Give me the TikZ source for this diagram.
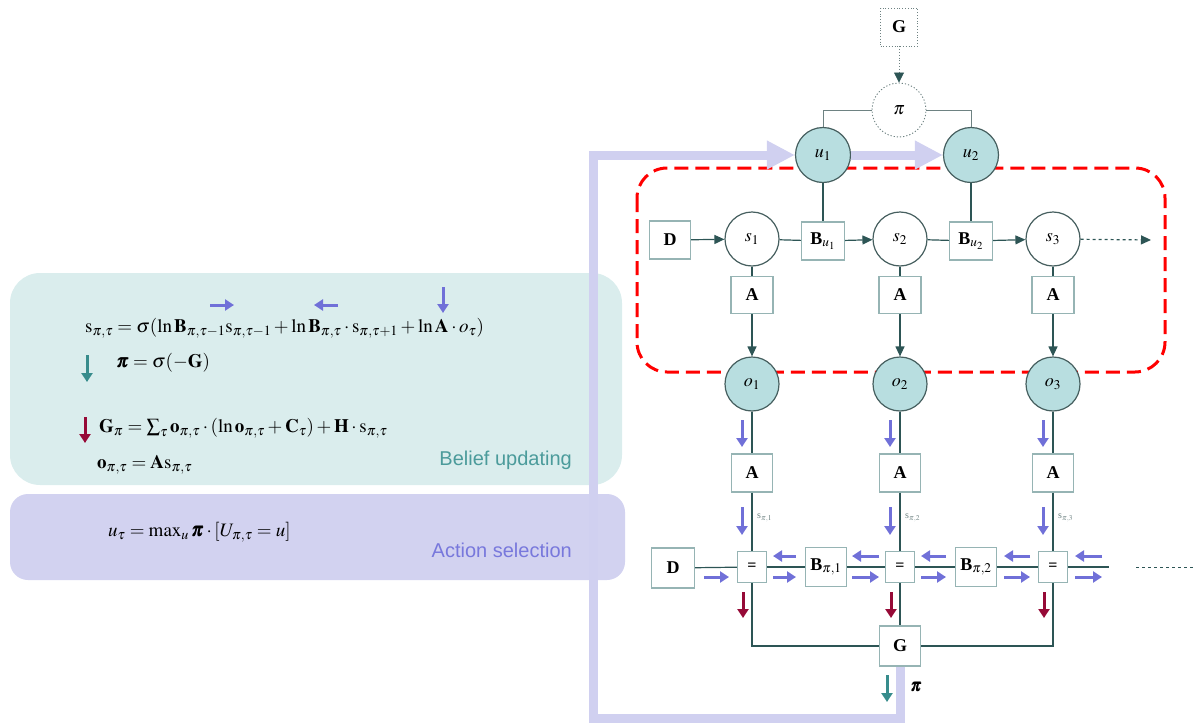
\documentclass[tikz,border=0pt]{standalone}
\usepackage{amsmath}
\usepackage{mathptmx}
\usepackage{fontspec}
\setmainfont{Liberation Serif}
\newfontfamily\sansfnt{Liberation Sans}
\usepackage{bm}
\usetikzlibrary{arrows.meta}
\definecolor{panelteal}{RGB}{218,237,237}
\definecolor{panellav}{RGB}{210,210,240}
\definecolor{lavline}{RGB}{208,208,240}
\definecolor{beliefc}{RGB}{75,155,155}
\definecolor{actionc}{RGB}{120,120,220}
\definecolor{purp}{RGB}{112,112,216}
\definecolor{dred}{RGB}{150,10,55}
\definecolor{tealarr}{RGB}{55,140,140}
\definecolor{boxc}{RGB}{150,180,180}
\definecolor{lnc}{RGB}{45,85,85}
\definecolor{obs}{RGB}{184,222,224}
\definecolor{circc}{RGB}{70,95,95}
\definecolor{grayc}{RGB}{110,130,130}
\tikzset{
  fbox/.style={draw=boxc, line width=1.2pt, fill=white, minimum width=41pt, minimum height=38pt, inner sep=0pt, font=\fontsize{18}{20}\selectfont\bfseries},
  eqn/.style={draw=boxc, line width=1.2pt, fill=white, minimum width=29pt, minimum height=31pt, inner sep=0pt, font=\fontsize{16}{18}\selectfont\bfseries},
  scirc/.style={circle, draw=circc, line width=1.2pt, fill=white, minimum size=54pt, inner sep=0pt, font=\fontsize{18}{20}\selectfont},
  ocirc/.style={scirc, fill=obs},
  conn/.style={draw=lnc, line width=1.2pt},
  arr/.style={conn, -{Triangle[length=10pt,width=9pt]}},
  parr/.style={draw=purp, line width=3pt, -{Triangle[length=9pt,width=11pt]}},
  rarr/.style={draw=dred, line width=3pt, -{Triangle[length=9pt,width=11pt]}},
  tarr/.style={draw=tealarr, line width=3pt, -{Triangle[length=9pt,width=11pt]}},
  lav/.style={draw=lavline, line width=9pt, -{Triangle[length=28pt,width=27pt]}},
  eqtext/.style={anchor=west, inner sep=0pt, font=\fontsize{19}{22}\selectfont},
  slab/.style={anchor=west, inner sep=0pt, text=grayc, font=\fontsize{10}{12}\selectfont},
}
\begin{document}
\begin{tikzpicture}[x=1pt,y=-1pt]
\useasboundingbox (0,0) rectangle (1195,728);
% left panels
\fill[panelteal, rounded corners=30pt] (10,273) rectangle (622,485);
\fill[panellav, rounded corners=18pt] (10,494) rectangle (625,580);
% equations
\node[eqtext] (e1) at (85,328) {$\mathrm{s}_{\pi,\tau}=\sigma(\ln\mathbf{B}_{\pi,\tau-1}\mathrm{s}_{\pi,\tau-1}+\ln\mathbf{B}_{\pi,\tau}\cdot\mathrm{s}_{\pi,\tau+1}+\ln\mathbf{A}\cdot o_{\tau})$};
\draw[parr] (210,305) -- (234,305);
\draw[parr] (338,305) -- (314,305);
\draw[parr] (443,287) -- (443,313);
\draw[tarr] (87,355) -- (87,382);
\node[eqtext] (e2) at (116,363) {$\bm{\pi}=\sigma(-\mathbf{G})$};
\draw[rarr] (85,417) -- (85,443);
\node[eqtext] (e3) at (99,428) {$\mathbf{G}_{\pi}=\sum\nolimits_{\tau}\mathbf{o}_{\pi,\tau}\cdot(\ln\mathbf{o}_{\pi,\tau}+\mathbf{C}_{\tau})+\mathbf{H}\cdot\mathrm{s}_{\pi,\tau}$};
\node[eqtext] (e4) at (97,465) {$\mathbf{o}_{\pi,\tau}=\mathbf{A}\mathrm{s}_{\pi,\tau}$};
\node[anchor=east, inner sep=0pt, text=beliefc, font=\sansfnt\fontsize{20}{22}\selectfont] (bu) at (572,460) {Belief updating};
\node[eqtext] (e5) at (108,532) {$u_{\tau}=\max\nolimits_{u}\bm{\pi}\cdot[U_{\pi,\tau}=u]$};
\node[anchor=east, inner sep=0pt, text=actionc, font=\sansfnt\fontsize{20}{22}\selectfont] (as) at (572,550) {Action selection};
% red dashed region
\draw[red, line width=3pt, dash pattern=on 14pt off 7pt, rounded corners=30pt] (637,168) rectangle (1165,372);
% top part
\node[fbox, draw=grayc, line width=0.8pt, dotted, minimum width=37pt] (Gt) at (899,27) {G};
\node[scirc, dotted, draw=grayc, line width=0.9pt] (pi) at (899,110) {$\pi$};
\node[ocirc, minimum size=55pt] (u1) at (823,155) {$u_1$};
\node[ocirc, minimum size=55pt] (u2) at (971,155) {$u_2$};
\draw[draw=grayc, line width=0.8pt, dotted, -{Triangle[length=10pt,width=10pt,color=lnc,fill=lnc]}] (Gt) -- (pi);
\draw[draw=grayc, line width=0.9pt] (pi.west) -| (u1.north);
\draw[draw=grayc, line width=0.9pt] (pi.east) -| (u2.north);
% state row
\node[fbox] (D1) at (670,240) {D};
\node[scirc] (s1) at (752,239) {$s_1$};
\node[fbox, minimum width=43pt] (Bu1) at (823,241) {B$_{u_1}$};
\node[scirc] (s2) at (900,239) {$s_2$};
\node[fbox, minimum width=43pt] (Bu2) at (971,241) {B$_{u_2}$};
\node[scirc] (s3) at (1053,239) {$s_3$};
\coordinate (send) at (1151,240);
\draw[arr] (D1) -- (s1);
\draw[conn] (s1) -- (Bu1);
\draw[arr] (Bu1) -- (s2);
\draw[conn] (s2) -- (Bu2);
\draw[arr] (Bu2) -- (s3);
\draw[arr, dashed] (s3) -- (send);
\draw[conn] (u1) -- (Bu1);
\draw[conn] (u2) -- (Bu2);
% A and o
\foreach \i/\x in {1/752,2/900,3/1053}{
  \node[fbox, minimum width=42pt, minimum height=37pt] (At\i) at (\x,295) {A};
  \node[ocirc] (o\i) at (\x,384) {$o_{\i}$};
  \node[fbox] (Al\i) at (\x,473) {A};
  \node[eqn] (q\i) at (\x,567) {=};
  \draw[conn] (s\i) -- (At\i);
  \draw[arr] (At\i) -- (o\i);
  \draw[conn] (o\i) -- (Al\i);
  \draw[conn] (Al\i) -- (q\i);
  \node[slab] at (\x+5,518) {s$_{\pi,\i}$};
  \draw[parr] (\x-10,420) -- (\x-10,447);
  \draw[parr] (\x-10,507) -- (\x-10,535);
  \draw[rarr] (\x-9,592) -- (\x-9,618);
}
% lower row
\node[fbox, minimum width=43pt, minimum height=40pt] (D2) at (673,568) {D};
\node[fbox, minimum height=39pt] (Bp1) at (826,567) {B$_{\pi,1}$};
\node[fbox, minimum height=39pt] (Bp2) at (976,567) {B$_{\pi,2}$};
\node[fbox, minimum height=40pt] (Gl) at (900,646) {G};
\coordinate (lend) at (1109,567);
\coordinate (dstart) at (1136,567);
\coordinate (dend) at (1195,567);
\draw[conn] (D2) -- (q1);
\draw[conn] (q1) -- (Bp1);
\draw[conn] (Bp1) -- (q2);
\draw[conn] (q2) -- (Bp2);
\draw[conn] (Bp2) -- (q3);
\draw[conn] (q3) -- (lend);
\draw[conn, dashed, line width=0.9pt] (dstart) -- (dend);
\draw[conn] (q1) |- (Gl);
\draw[conn] (q3) |- (Gl);
\draw[conn] (q2) -- (Gl);
\draw[parr] (704,577) -- (729,577);
\foreach \a/\b in {773/796, 852/879, 921/946, 1004/1030, 1075/1102}{
  \draw[parr] (\b,556) -- (\a,556);
  \draw[parr] (\a,577) -- (\b,577);
}
\draw[tarr] (887,675) -- (887,702);
\node[inner sep=0pt, font=\fontsize{17}{20}\selectfont] (pil) at (916,687) {$\bm{\pi}$};
% lavender loop
\draw[lav] (Gl.south) |- (593,718) |- (u1.west);
\draw[lav] (u1.east) -- (u2.west);
\end{tikzpicture}
\end{document}
